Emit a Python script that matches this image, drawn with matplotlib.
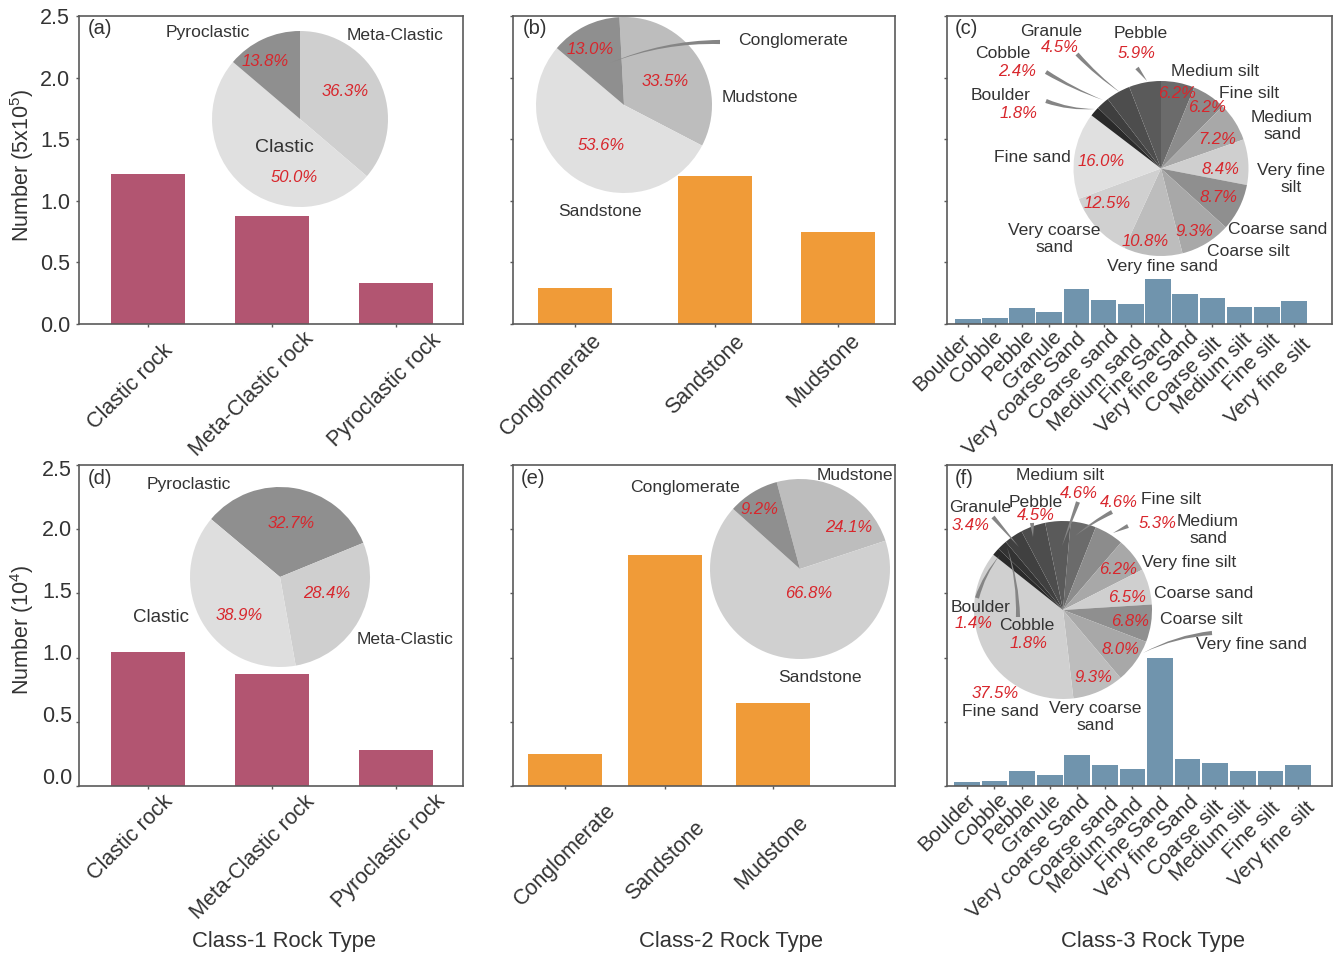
import matplotlib
matplotlib.use('Agg')
import matplotlib.pyplot as plt
from matplotlib.patches import FancyArrowPatch

plt.rcParams['font.family'] = ['Liberation Sans', 'DejaVu Sans']
plt.rcParams['mathtext.default'] = 'regular'

W, H = 1337, 958

### Data ###
class1_names = ['Clastic rock', 'Meta-Clastic rock', 'Pyroclastic rock']
class2_names = ['Conglomerate', 'Sandstone', 'Mudstone']
class3_names = ['Boulder', 'Cobble', 'Pebble', 'Granule', 'Very coarse Sand', 'Coarse sand',
                'Medium sand', 'Fine Sand', 'Very fine Sand', 'Coarse silt', 'Medium silt',
                'Fine silt', 'Very fine silt']
y_labels = ['0.0', '0.5', '1.0', '1.5', '2.0', '2.5']

a_values = [1.22, 0.88, 0.335]
b_values = [0.29, 1.20, 0.745]
c_values = [0.038, 0.051, 0.133, 0.10, 0.285, 0.198, 0.16, 0.366, 0.244, 0.211, 0.138, 0.138, 0.19]
d_values = [1.04, 0.87, 0.28]
e_values = [0.25, 1.80, 0.65]
f_values = [0.031, 0.042, 0.115, 0.086, 0.245, 0.167, 0.135, 1.0, 0.211, 0.177, 0.117, 0.117, 0.161]

# pie shares, clockwise from the start angle
a_pie = [36.3, 50.0, 13.8]
b_pie = [33.5, 53.6, 13.0]
c_pie = [6.2, 6.2, 7.2, 8.4, 8.7, 9.3, 10.8, 12.5, 16.0, 1.8, 2.4, 4.5, 5.9]
d_pie = [32.7, 28.4, 38.9]
e_pie = [24.1, 66.8, 9.2]
f_pie = [4.6, 5.3, 6.2, 6.5, 6.8, 8.0, 9.3, 37.5, 1.4, 1.8, 3.4, 4.5, 4.6]

### Styles ###
RED_BAR = '#b25571'
ORANGE_BAR = '#f09b38'
BLUE_BAR = '#7094ad'
TXT = '#333333'
PCT = '#d8262c'
SPINE = '#5a5a5a'

a_cols = ['#cfcfcf', '#e0e0e0', '#8f8f8f']
b_cols = ['#bdbdbd', '#e0e0e0', '#8f8f8f']
c_cols = ['#6b6b6b', '#8c8c8c', '#a8a8a8', '#cfcfcf', '#8f8f8f', '#a8a8a8', '#bdbdbd',
          '#d0d0d0', '#e0e0e0', '#2a2a2a', '#3f3f3f', '#4d4d4d', '#5a5a5a']
d_cols = ['#8f8f8f', '#cfcfcf', '#dedede']
e_cols = ['#bdbdbd', '#d0d0d0', '#8f8f8f']
f_cols = ['#6b6b6b', '#8c8c8c', '#a8a8a8', '#cfcfcf', '#8f8f8f', '#a8a8a8', '#bdbdbd',
          '#d0d0d0', '#2a2a2a', '#333333', '#404040', '#4d4d4d', '#5a5a5a']

# where the slanted x labels sit in each panel (they do not line up with the ticks)
a_lab_pos = [(130, 387), (252, 394), (385, 390)]
b_lab_pos = [(551, 385), (705, 375), (824, 371)]
c_lab_pos = [(942, 363), (976, 357), (1008, 355), (1032, 360), (1025, 394), (1074, 375), (1096, 384),
             (1137, 367), (1147, 382), (1184, 375), (1212, 374), (1252, 363), (1268, 382)]
d_lab_pos = [(130, 838), (253, 857), (389, 851)]
e_lab_pos = [(565, 855), (665, 861), (772, 853)]
f_lab_pos = [(947, 823), (981, 820), (1009, 818), (1031, 824), (1029, 857), (1074, 842), (1096, 846),
             (1133, 834), (1147, 847), (1186, 838), (1211, 841), (1252, 831), (1272, 845)]

fig = plt.figure(figsize=(W / 100, H / 100), dpi=100)


def box(x0, y0, x1, y1):
    return [x0 / W, 1 - y1 / H, (x1 - x0) / W, (y1 - y0) / H]


def put(x, y, s, size=12.6, color=TXT, **kw):
    fig.text(x / W, 1 - y / H, s, fontsize=size, color=color, ha='center', va='center', **kw)


def pct(x, y, s):
    put(x, y, s, size=12, color=PCT, style='italic')


def leader(x0, y0, x1, y1, rad=0.1):
    p = FancyArrowPatch((x0 / W, 1 - y0 / H), (x1 / W, 1 - y1 / H), transform=fig.transFigure,
                        arrowstyle='wedge,tail_width=0.3,shrink_factor=0.5', mutation_scale=10,
                        connectionstyle='arc3,rad=%g' % rad, color='#858585', lw=0,
                        shrinkA=0, shrinkB=0, zorder=5)
    fig.add_artist(p)


def bar_panel(rect, xpos, vals, names, lab_pos, color, width, xlim, show_y, fs):
    ax = fig.add_axes(box(*rect))
    ax.bar(xpos, vals, width=width, color=color)
    ax.set_xlim(*xlim)
    ax.set_ylim(0, 2.5)
    ax.set_yticks([0, 0.5, 1.0, 1.5, 2.0, 2.5])
    ax.set_xticks(xpos)
    ax.set_xticklabels([])
    if show_y:
        ax.set_yticklabels(y_labels, fontsize=15.5, color=TXT)
    else:
        ax.set_yticklabels([])
    ax.tick_params(length=2.5, width=1, color=SPINE, pad=4)
    for s in ax.spines.values():
        s.set_color(SPINE)
        s.set_linewidth(1.2)
    for (x, y), name in zip(lab_pos, names):
        put(x, y, name, size=fs, rotation=45)
    return ax


def pie_panel(cx, cy, r, vals, cols, start):
    ax = fig.add_axes(box(cx - r, cy - r, cx + r, cy + r))
    ax.pie(vals, colors=cols, startangle=start, counterclock=False, radius=1)
    ax.set_xlim(-1, 1)
    ax.set_ylim(-1, 1)
    ax.axis('off')


### Bars ###
bar_panel((79, 16, 463, 324), [0, 1, 2], a_values, class1_names, a_lab_pos, RED_BAR, 0.6, (-0.556, 2.54), True, 15.5)
bar_panel((513, 16, 895, 324), [0, 1.14, 2.14], b_values, class2_names, b_lab_pos, ORANGE_BAR, 0.6, (-0.5, 2.6), False, 15.5)
bar_panel((947, 16, 1332, 324), list(range(13)), c_values, class3_names, c_lab_pos, BLUE_BAR, 0.945, (-0.76, 13.4), False, 15)
ax_d = bar_panel((79, 465, 463, 786), [0, 1, 2], d_values, class1_names, d_lab_pos, RED_BAR, 0.6, (-0.556, 2.54), False, 15.5)
bar_panel((513, 465, 895, 786), [0, 1, 2.08], e_values, class2_names, e_lab_pos, ORANGE_BAR, 0.74, (-0.52, 3.3), False, 15.5)
bar_panel((947, 465, 1332, 786), list(range(13)), f_values, class3_names, f_lab_pos, BLUE_BAR, 0.93, (-0.72, 13.23), False, 15)

# the y labels of (d) drift from their ticks in the original
for y, s in zip([778, 717, 655, 593, 531, 470], y_labels):
    fig.text(72 / W, 1 - y / H, s, fontsize=15.5, color=TXT, ha='right', va='center')

### Pies ###
pie_panel(300, 119, 88, a_pie, a_cols, 90)
pie_panel(624, 105, 88, b_pie, b_cols, 93)
pie_panel(1161, 168.5, 87.5, c_pie, c_cols, 90)
pie_panel(280, 577, 90, d_pie, d_cols, 140)
pie_panel(800, 569, 90, e_pie, e_cols, 105)
pie_panel(1063, 610, 89, f_pie, f_cols, 85)

### Panel letters ###
for x, y, s in [(100, 28, '(a)'), (535, 28, '(b)'), (966, 28, '(c)'),
                (100, 478, '(d)'), (533, 478, '(e)'), (964, 478, '(f)')]:
    put(x, y, s, size=14.5)

### Axis titles ###
fig.text(22 / W, 1 - 165 / H, 'Number (5x10$^{5}$)', rotation=90, fontsize=15.5, color=TXT,
         ha='center', va='center')
fig.text(22 / W, 1 - 630 / H, 'Number (10$^{4}$)', rotation=90, fontsize=15.5, color=TXT,
         ha='center', va='center')
put(284, 942, 'Class-1 Rock Type', size=15.8)
put(731, 942, 'Class-2 Rock Type', size=15.8)
put(1153, 942, 'Class-3 Rock Type', size=15.8)

### (a) ###
put(208, 32, 'Pyroclastic')
put(395, 35, 'Meta-Clastic')
put(284, 147, 'Clastic', size=14)
pct(265, 62, '13.8%')
pct(345, 91, '36.3%')
pct(294, 177, '50.0%')

### (b) ###
put(793, 41, 'Conglomerate')
put(760, 98, 'Mudstone')
put(600, 211, 'Sandstone')
pct(590, 50, '13.0%')
pct(665, 81, '33.5%')
pct(601, 145, '53.6%')
leader(720, 42, 610, 63, 0.1)

### (c) ###
put(1051, 31, 'Granule')
put(1141, 33, 'Pebble')
put(1003, 53, 'Cobble')
put(1001, 96, 'Boulder')
put(1215, 71, 'Medium silt')
put(1249, 93, 'Fine silt')
put(1282, 126, 'Medium\nsand')
put(1291, 179, 'Very fine\nsilt')
put(1278, 229, 'Coarse sand')
put(1248, 251, 'Coarse silt')
put(1162, 266, 'Very fine sand')
put(1054, 239, 'Very coarse\nsand')
put(1032, 157, 'Fine sand')
pct(1060, 47, '4.5%')
pct(1137, 53, '5.9%')
pct(1017, 71, '2.4%')
pct(1019, 113, '1.8%')
pct(1177, 93, '6.2%')
pct(1207, 108, '6.2%')
pct(1217, 140, '7.2%')
pct(1220, 170, '8.4%')
pct(1218, 198, '8.7%')
pct(1194, 231, '9.3%')
pct(1145, 242, '10.8%')
pct(1107, 203, '12.5%')
pct(1101, 162, '16.0%')
leader(1077, 54, 1121, 93, 0.05)
leader(1046, 72, 1103, 100, 0.05)
leader(1046, 101, 1095, 109, 0.1)
leader(1137, 68, 1147, 81, 0.0)

### (d) ###
put(189, 485, 'Pyroclastic')
put(161, 617, 'Clastic', size=13.5)
put(405, 639, 'Meta-Clastic')
pct(291, 524, '32.7%')
pct(327, 594, '28.4%')
pct(239, 616, '38.9%')

### (e) ###
put(685, 487, 'Conglomerate')
put(855, 475, 'Mudstone')
put(820, 677, 'Sandstone')
pct(759, 510, '9.2%')
pct(849, 528, '24.1%')
pct(809, 593, '66.8%')

### (f) ###
put(1060, 476, 'Medium silt')
put(1171, 499, 'Fine silt')
put(1036, 502, 'Pebble')
put(980, 508, 'Granule')
put(1208, 530, 'Medium\nsand')
put(1189, 562, 'Very fine silt')
put(1204, 594, 'Coarse sand')
put(1201, 620, 'Coarse silt')
put(1251, 645, 'Very fine sand')
put(1000, 711, 'Fine sand')
put(1095, 717, 'Very coarse\nsand')
put(981, 608, 'Boulder')
put(1027, 625, 'Cobble')
pct(1079, 493, '4.6%')
pct(1119, 502, '4.6%')
pct(1036, 515, '4.5%')
pct(971, 525, '3.4%')
pct(1158, 523, '5.3%')
pct(1118, 569, '6.2%')
pct(1127, 598, '6.5%')
pct(1130, 622, '6.8%')
pct(1120, 650, '8.0%')
pct(1093, 677, '9.3%')
pct(995, 693, '37.5%')
pct(973, 623, '1.4%')
pct(1029, 643, '1.8%')
leader(1078, 502, 1062, 546, 0.0)
leader(1112, 512, 1075, 536, 0.05)
leader(1128, 526, 1113, 533, 0.0)
leader(1212, 633, 1143, 653, 0.1)
leader(1032, 523, 1033, 537, 0.0)
leader(993, 517, 1019, 547, 0.0)
leader(1018, 617, 1007, 547, 0.08)
leader(977, 598, 1000, 555, -0.1)

fig.savefig('out.png', dpi=100)
